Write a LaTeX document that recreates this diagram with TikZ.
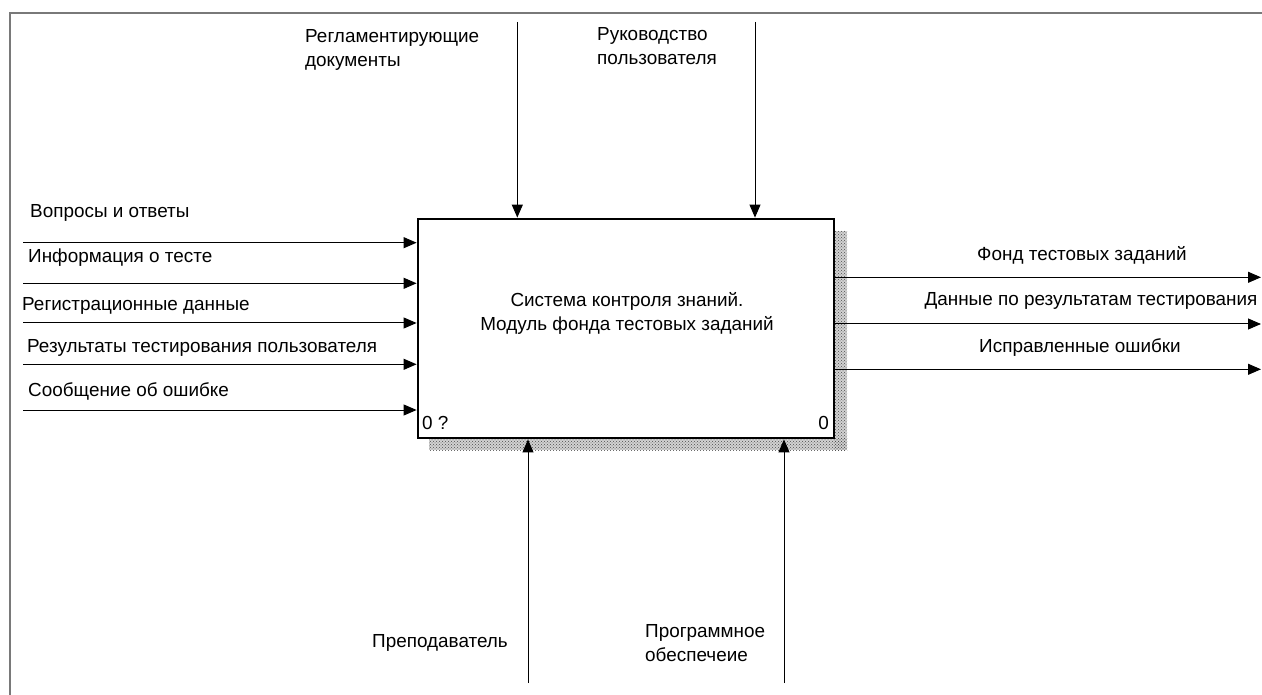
\documentclass[tikz,border=0pt]{standalone}
\usepackage{fontspec}
\setmainfont{Liberation Sans}
\usetikzlibrary{arrows.meta,patterns}
\begin{document}
\begin{tikzpicture}[x=1pt,y=-1pt,
  arr/.style={line width=1pt,-{Triangle[length=13pt,width=11pt]}},
  lbl/.style={inner sep=0pt,font=\fontsize{18.9}{24}\selectfont},
  ml/.style={inner sep=0pt,align=left,font=\fontsize{18.9}{24}\selectfont},
  frame/.style={draw=gray!95!black,line width=1.5pt}]
\useasboundingbox (0,0) rectangle (1262,695);
\draw[frame] (10,695) -- (10,13) -- (1262,13);
% shadow
\fill[gray!35] (834,231) rectangle (847,450);
\fill[gray!35] (429,438) rectangle (847,450);
\fill[pattern=crosshatch dots,pattern color=gray!60!black] (834,231) rectangle (847,450);
\fill[pattern=crosshatch dots,pattern color=gray!60!black] (429,438) rectangle (847,450);
% main box
\node[draw,line width=2.8pt,minimum width=416pt,minimum height=219pt,inner sep=0pt,fill=white] (box) at (626,328.5) {};
\node[lbl,align=center] (title) at (627,313) {Система контроля знаний.\\Модуль фонда тестовых заданий};
\node[lbl,anchor=west] (n0q) at (422,423) {0 ?};
\node[lbl,anchor=east] (n0) at (829,423) {0};
% inputs
\coordinate (i1) at (23,242.7);
\coordinate (i2) at (23,283.3);
\coordinate (i3) at (23,323);
\coordinate (i4) at (23,364.3);
\coordinate (i5) at (23,410);
\foreach \c in {i1,i2,i3,i4,i5} \draw[arr] (\c) -- (\c -| box.west);
\node[lbl,anchor=west] (li1) at (30,213) {Вопросы и ответы};
\node[lbl,anchor=west] (li2) at (28,258) {Информация о тесте};
\node[lbl,anchor=west] (li3) at (22,306) {Регистрационные данные};
\node[lbl,anchor=west] (li4) at (27,348) {Результаты тестирования пользователя};
\node[lbl,anchor=west] (li5) at (28,391) {Сообщение об ошибке};
% outputs
\coordinate (o1) at (1261,277.3);
\coordinate (o2) at (1261,324);
\coordinate (o3) at (1261,369.3);
\foreach \c in {o1,o2,o3} \draw[arr] (\c -| box.east) -- (\c);
\node[lbl] (lo1) at (1082,255) {Фонд тестовых заданий};
\node[lbl] (lo2) at (1091,301) {Данные по результатам тестирования};
\node[lbl] (lo3) at (1080,348) {Исправленные ошибки};
% controls
\coordinate (c1) at (517.3,22);
\coordinate (c2) at (755,22);
\foreach \c in {c1,c2} \draw[arr] (\c) -- (\c |- box.north);
\node[ml,anchor=north west] (lc1) at (305,29) {Регламентирующие\\документы};
\node[ml,anchor=north west] (lc2) at (597,27) {Руководство\\пользователя};
% mechanisms
\coordinate (m1) at (528,683);
\coordinate (m2) at (784,683);
\foreach \c in {m1,m2} \draw[arr] (\c) -- (\c |- box.south);
\node[lbl,anchor=west] (lm1) at (372,643) {Преподаватель};
\node[ml,anchor=north west] (lm2) at (645,624) {Программное\\обеспечеие};
\end{tikzpicture}
\end{document}
